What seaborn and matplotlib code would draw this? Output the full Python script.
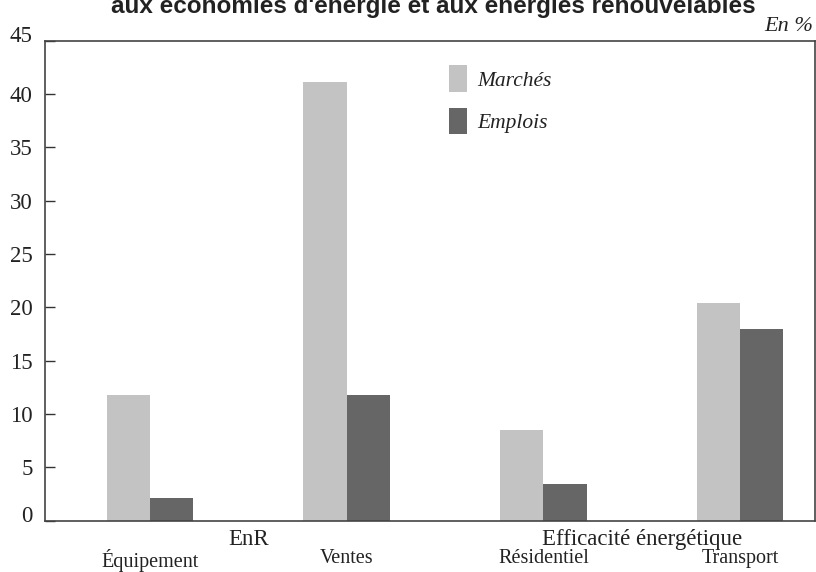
import matplotlib
matplotlib.use("Agg")
import matplotlib.pyplot as plt
import matplotlib.transforms as mtransforms
from matplotlib.patches import Patch
import seaborn as sns
import pandas as pd

categories = ["Équipement", "Ventes", "Résidentiel", "Transport"]
groups = ["EnR", "Efficacité énergétique"]
series = ["Marchés", "Emplois"]
marches = [11.8, 41.1, 8.5, 20.4]
emplois = [2.1, 11.8, 3.4, 18.0]
yticks = [0, 5, 10, 15, 20, 25, 30, 35, 40, 45]
colors = ["#c3c3c3", "#666666"]
title = "aux économies d'énergie et aux énergies renouvelables"

df = pd.DataFrame({
    "cat": categories * 2,
    "serie": [series[0]] * 4 + [series[1]] * 4,
    "val": marches + emplois,
})

sns.set_theme(style="white")
plt.rcParams["font.family"] = ["Liberation Serif", "DejaVu Serif"]

fig = plt.figure(figsize=(8.16, 5.72), dpi=100)
ax = fig.add_axes([45 / 816, 1 - 520.5 / 572, 770 / 816, 479.8 / 572])

sns.barplot(data=df, x="cat", y="val", hue="serie", order=categories,
            hue_order=series, palette=colors, width=0.44,
            saturation=1, ax=ax, errorbar=None, legend=False, linewidth=0)

ax.set_xlim(-0.534, 3.381)
ax.set_ylim(0, 45)
ax.set_yticks(yticks)
ax.set_yticklabels([str(v) for v in yticks], fontsize=16.5, color="#222222")
ax.tick_params(axis="y", direction="in", length=7, width=1, color="#333333",
               left=True, pad=9)
ax.tick_params(axis="x", bottom=False, labelbottom=False)
ax.set_xlabel("")
ax.set_ylabel("")
for s in ax.spines.values():
    s.set_color("#444444")
    s.set_linewidth(1.2)
    s.set_visible(True)

# end labels sit a little higher than their ticks
shift = mtransforms.ScaledTranslation(0, 7 / 100, fig.dpi_scale_trans)
labels = ax.get_yticklabels()
for idx in (0, len(labels) - 1):
    labels[idx].set_transform(labels[idx].get_transform() + shift)

# category labels
for i, c in enumerate(categories):
    ax.text(i, -0.059, c, transform=ax.get_xaxis_transform(), ha="center",
            va="top", fontsize=14.5, color="#222222")
for i, g in enumerate(groups):
    ax.text(2 * i + 0.5, -0.017, g, transform=ax.get_xaxis_transform(),
            ha="center", va="top", fontsize=16.5, color="#222222")

handles = [Patch(facecolor=c, edgecolor="none", linewidth=0) for c in colors]
leg = ax.legend(handles, series, loc="upper left",
                bbox_to_anchor=(449 / 816, 1 - 65.5 / 572),
                bbox_transform=fig.transFigure, frameon=False,
                prop={"style": "italic", "size": 15.5}, handlelength=0.84,
                handleheight=1.5, handletextpad=0.45, labelspacing=0.75,
                borderpad=0, borderaxespad=0)
for t in leg.get_texts():
    t.set_color("#222222")

fig.text(813 / 816, 1 - 31 / 572, "En %", ha="right", va="baseline",
         fontsize=16, style="italic", color="#222222")
fig.text(433 / 816, 1 - 13 / 572, title, ha="center", va="baseline",
         fontsize=17.5, fontweight="bold", color="#222222",
         family=["Liberation Sans", "DejaVu Sans"])

fig.savefig("out.png", dpi=100)
